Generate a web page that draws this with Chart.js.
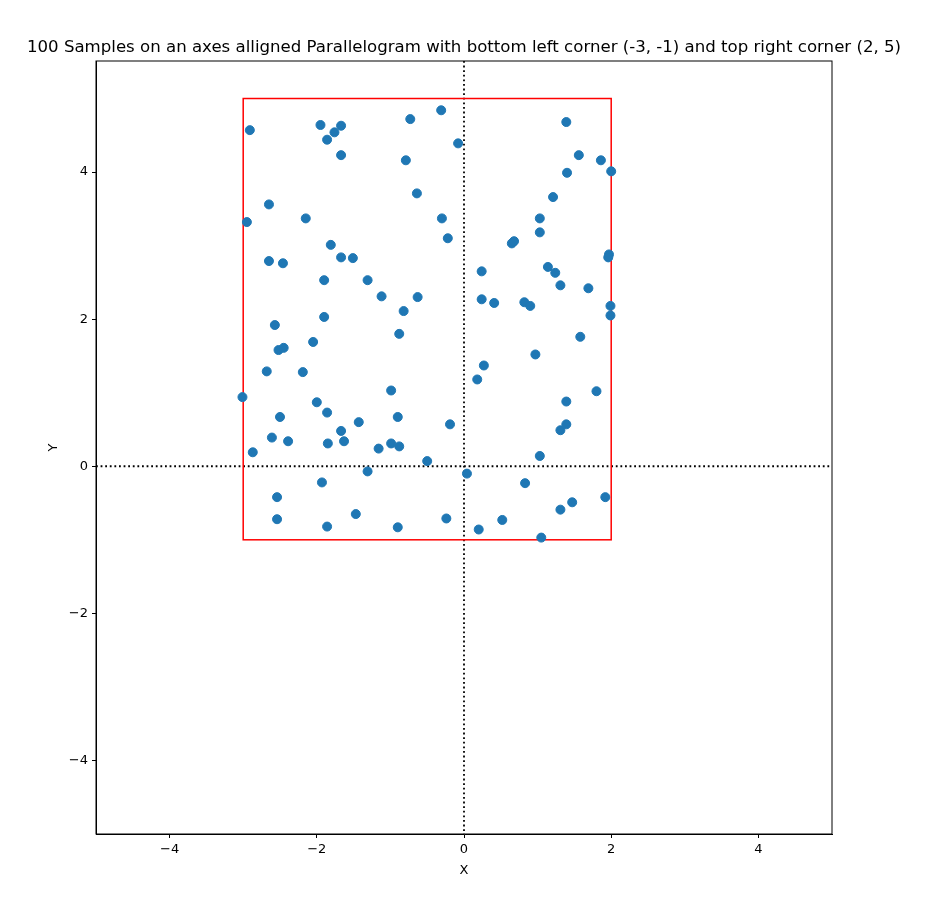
<!DOCTYPE html>
<html>
<head>
<script src="https://cdn.jsdelivr.net/npm/chart.js"></script>
<style>
  body { margin: 0; background: #fff; }
  #wrap { width: 942px; height: 918px; }
</style>
</head>
<body>
<div id="wrap"><canvas id="c"></canvas></div>
<script>
const xs = [-3.01,-2.91,-2.95,-2.65,-2.65,-2.46,-2.57,-2.52,-2.45,-2.68,
  -2.87,-2.50,-2.61,-2.39,-2.54,-2.54,-2.15,-2.05,-2.19,-2.00,
  -1.86,-1.95,-1.86,-1.76,-1.67,-1.67,-1.81,-1.67,-1.51,-1.90,
  -1.90,-1.67,-1.85,-1.63,-1.93,-1.86,-1.43,-1.31,-1.12,-1.16,
  -1.31,-1.47,-0.99,-0.99,-0.90,-0.88,-0.90,-0.88,-0.82,-0.73,
  -0.79,-0.64,-0.63,-0.50,-0.31,-0.30,-0.22,-0.08,-0.19,-0.24,
  0.04,0.18,0.20,0.24,0.24,0.27,0.41,0.52,0.65,0.68,
  0.82,0.90,0.83,0.97,1.03,1.03,1.03,1.05,1.14,1.21,
  1.24,1.31,1.31,1.31,1.39,1.40,1.39,1.39,1.47,1.56,
  1.58,1.69,1.80,1.86,2.00,1.97,1.96,1.99,1.99,1.92];
const ys = [0.94,4.57,3.32,3.56,2.79,2.76,1.92,1.58,1.61,1.29,
  0.19,0.67,0.39,0.34,-0.42,-0.72,3.37,1.69,1.28,0.87,
  0.73,4.64,4.44,4.54,4.63,4.23,3.01,2.84,2.83,2.53,
  2.03,0.48,0.31,0.34,-0.22,-0.82,0.60,2.53,2.31,0.24,
  -0.07,-0.65,1.03,0.31,0.67,0.27,-0.83,1.80,2.11,4.72,
  4.16,3.71,2.30,0.07,4.84,3.37,3.10,4.39,0.57,-0.71,
  -0.10,1.18,-0.86,2.65,2.27,1.37,2.22,-0.73,3.03,3.06,
  2.23,2.18,-0.23,1.52,3.37,3.18,0.14,-0.97,2.71,3.66,
  2.63,2.46,0.49,-0.59,4.68,3.99,0.88,0.57,-0.49,4.23,
  1.76,2.42,1.02,4.16,4.01,2.88,2.84,2.18,2.05,-0.42];
const rectX = [-3, 2];
const rectY = [-1, 5];
const tickVals = [-4, -2, 0, 2, 4];
const titleText = "100 Samples on an axes alligned Parallelogram with bottom left corner (-3, -1) and top right corner (2, 5)";

const overlay = {
  id: 'overlay',
  beforeDatasetsDraw(chart) {
    const ctx = chart.ctx, xs_ = chart.scales.x, ys_ = chart.scales.y, a = chart.chartArea;
    ctx.save();
    ctx.strokeStyle = '#000';
    ctx.lineWidth = 1.8;
    ctx.setLineDash([1.8, 2.8]);
    const x0 = xs_.getPixelForValue(0), y0 = ys_.getPixelForValue(0);
    ctx.beginPath();
    ctx.moveTo(x0, a.top); ctx.lineTo(x0, a.bottom);
    ctx.moveTo(a.left, y0); ctx.lineTo(a.right, y0);
    ctx.stroke();
    ctx.setLineDash([]);
    ctx.lineWidth = 1.5;
    ctx.strokeStyle = '#ff0000';
    const l = xs_.getPixelForValue(rectX[0]), r = xs_.getPixelForValue(rectX[1]);
    const t = ys_.getPixelForValue(rectY[1]), b = ys_.getPixelForValue(rectY[0]);
    ctx.strokeRect(l, t, r - l, b - t);
    ctx.restore();
  },
  afterDraw(chart) {
    const ctx = chart.ctx, a = chart.chartArea;
    ctx.save();
    ctx.strokeStyle = '#000';
    ctx.lineWidth = 1;
    ctx.strokeRect(a.left, a.top, a.right - a.left, a.bottom - a.top);
    ctx.fillStyle = '#000';
    ctx.font = '16.6px "DejaVu Sans"';
    ctx.textAlign = 'center';
    ctx.textBaseline = 'middle';
    ctx.fillText(titleText, (a.left + a.right) / 2, 48);
    ctx.restore();
  }
};

const axisCommon = {
  type: 'linear',
  afterBuildTicks: s => { s.ticks = tickVals.map(v => ({ value: v })); },
  grid: { drawOnChartArea: false, tickLength: 4, color: '#000' },
  border: { color: '#000' },
  ticks: { color: '#000', font: { family: 'DejaVu Sans', size: 13 }, padding: 4,
    callback: v => v < 0 ? '\u2212' + Math.abs(v) : String(v) },
  title: { display: true, color: '#000', font: { family: 'DejaVu Sans', size: 13 }, padding: 2 }
};

new Chart(document.getElementById('c'), {
  type: 'scatter',
  data: {
    datasets: [{
      data: xs.map((x, i) => ({ x: x, y: ys[i] })),
      backgroundColor: '#1f77b4',
      borderColor: '#1f77b4',
      pointRadius: 4.5
    }]
  },
  options: {
    responsive: true,
    maintainAspectRatio: false,
    animation: false,
    layout: { padding: { top: 61, right: 110, left: 44, bottom: 38 } },
    plugins: { legend: { display: false }, tooltip: { enabled: false } },
    scales: {
      x: Object.assign({}, axisCommon, {
        min: -5, max: 5,
        title: Object.assign({}, axisCommon.title, { text: 'X' }),
        afterFit: s => { s.height = 46; }
      }),
      y: Object.assign({}, axisCommon, {
        min: -5, max: 5.51,
        title: Object.assign({}, axisCommon.title, { text: 'Y' }),
        afterFit: s => { s.width = 52; }
      })
    }
  },
  plugins: [overlay]
});
</script>
</body>
</html>
